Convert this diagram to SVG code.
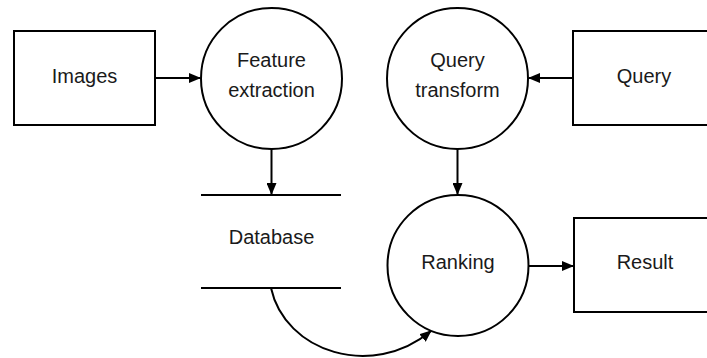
<svg xmlns="http://www.w3.org/2000/svg" width="707" height="358" viewBox="0 0 707 358">
  <style>
    .shape { fill: #ffffff; stroke: #000000; stroke-width: 2; }
    .edge { fill: none; stroke: #000000; stroke-width: 2; }
    .label { font-family: "Liberation Sans", Arial, sans-serif; font-size: 20px; fill: #1a1a1a; text-anchor: middle; }
  </style>
  <defs>
    <marker id="arrow" viewBox="0 0 12 10" refX="11" refY="5" markerWidth="12" markerHeight="10" markerUnits="userSpaceOnUse" orient="auto">
      <path d="M0,0 L12,5 L0,10 Z" fill="#000000"/>
    </marker>
  </defs>

  <g id="connectors">
    <line class="edge" x1="155" y1="78" x2="200" y2="78" marker-end="url(#arrow)"/>
    <line class="edge" x1="573" y1="78" x2="529" y2="78" marker-end="url(#arrow)"/>
    <line class="edge" x1="271.5" y1="149" x2="271.5" y2="194" marker-end="url(#arrow)"/>
    <line class="edge" x1="457.5" y1="149" x2="457.5" y2="194" marker-end="url(#arrow)"/>
    <line class="edge" x1="528" y1="266" x2="573" y2="266" marker-end="url(#arrow)"/>
    <path class="edge" d="M271,288 C285,352 372,380 431,331" marker-end="url(#arrow)"/>
  </g>

  <g id="images">
    <rect class="shape" x="14" y="31" width="141" height="94"/>
    <text class="label" x="84.5" y="82.5">Images</text>
  </g>

  <g id="feature-extraction">
    <circle class="shape" cx="271.5" cy="78.5" r="70.5"/>
    <text class="label" x="271.5" y="67">Feature</text>
    <text class="label" x="271.5" y="96.5">extraction</text>
  </g>

  <g id="query-transform">
    <circle class="shape" cx="457.5" cy="78.5" r="70.5"/>
    <text class="label" x="457.5" y="67">Query</text>
    <text class="label" x="457.5" y="96.5">transform</text>
  </g>

  <g id="query">
    <rect class="shape" x="573" y="31" width="141" height="94"/>
    <text class="label" x="644" y="82.5">Query</text>
  </g>

  <g id="database">
    <line class="edge" x1="201" y1="195" x2="341" y2="195"/>
    <line class="edge" x1="201" y1="288" x2="341" y2="288"/>
    <text class="label" x="271.5" y="244">Database</text>
  </g>

  <g id="ranking">
    <circle class="shape" cx="458" cy="265.5" r="70.5"/>
    <text class="label" x="458" y="268.5">Ranking</text>
  </g>

  <g id="result">
    <rect class="shape" x="574" y="218" width="141" height="94"/>
    <text class="label" x="645" y="268.5">Result</text>
  </g>
</svg>
